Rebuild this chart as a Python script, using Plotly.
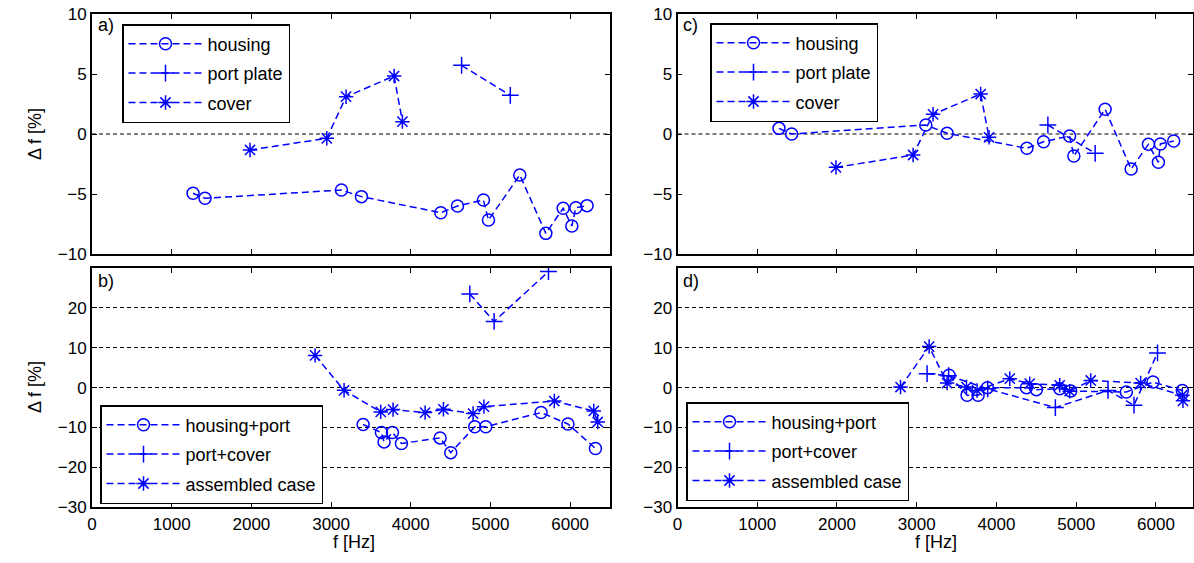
import plotly.graph_objects as go
from plotly.subplots import make_subplots

# -----------------------------
# Data
# -----------------------------
# a) separate parts, model 1
a_housing_f = [1268, 1418, 3130, 3381, 4377, 4586, 4912, 4975, 5368, 5695, 5912, 6021, 6071, 6212]
a_housing_d = [-4.94, -5.36, -4.67, -5.22, -6.56, -6.0, -5.5, -7.17, -3.42, -8.28, -6.19, -7.67, -6.14, -5.97]
a_port_f = [4638, 5249]
a_port_d = [5.72, 3.22]
a_cover_f = [1983, 2946, 3188, 3791, 3895]
a_cover_d = [-1.33, -0.36, 3.11, 4.83, 1.03]

# c) separate parts, model 2
c_housing_f = [1273, 1432, 3114, 3381, 4382, 4591, 4917, 4971, 5363, 5689, 5906, 6031, 6056, 6223]
c_housing_d = [0.47, 0.0, 0.75, 0.06, -1.19, -0.64, -0.17, -1.83, 2.06, -2.92, -0.86, -2.36, -0.83, -0.58]
c_port_f = [4645, 5238]
c_port_d = [0.75, -1.61]
c_cover_f = [1987, 2955, 3205, 3802, 3907]
c_cover_d = [-2.78, -1.75, 1.64, 3.33, -0.28]

# b) assemblies, model 1
b_hp_f = [3402, 3632, 3665, 3770, 3883, 4368, 4502, 4803, 4941, 5635, 5972, 6317]
b_hp_d = [-9.25, -11.25, -13.6, -11.25, -14.0, -12.6, -16.3, -9.8, -9.8, -6.25, -9.1, -15.25]
b_pc_f = [4741, 5046, 5728]
b_pc_d = [23.5, 16.6, 29.1]
b_case_f = [2799, 3163, 3623, 3778, 4180, 4410, 4782, 4918, 5801, 6296, 6346]
b_case_d = [8.08, -0.67, -6.08, -5.5, -6.25, -5.42, -6.5, -4.76, -3.36, -5.85, -8.6]

# d) assemblies, model 2
d_hp_f = [3406, 3632, 3770, 3887, 4376, 4501, 4793, 4931, 5629, 5963, 6331]
d_hp_d = [3.1, -1.9, -1.9, 0.0, 0.0, -0.5, -0.25, -0.85, -1.1, 1.4, -0.7]
d_pc_f = [3130, 3400, 3890, 4739, 5399, 5725, 6020]
d_pc_d = [3.5, 3.0, -0.3, -5.0, -0.7, -4.4, 8.7]
d_case_f = [2797, 3156, 3381, 3624, 3757, 4167, 4417, 4793, 4918, 5182, 5808, 6331, 6339]
d_case_d = [0.15, 10.3, 1.15, 0.15, -0.7, 2.25, 1.0, 0.6, -0.9, 1.8, 1.15, -1.9, -3.3]

x_ticks = [0, 1000, 2000, 3000, 4000, 5000, 6000]
y_ticks_top = [-10, -5, 0, 5, 10]
y_ticks_bot = [-30, -20, -10, 0, 10, 20]

# -----------------------------
# Style
# -----------------------------
W, H = 1194, 563
BLUE = "#0000ff"
FONT = "Liberation Sans"
SYMBOLS = ["circle-open", "cross-thin-open", "asterisk-open"]

fig = make_subplots(rows=2, cols=2)

def add_series(row, col, fx, dy, name, sym, legend):
    fig.add_trace(go.Scatter(
        x=fx, y=dy, name=name, mode="lines+markers",
        line=dict(color=BLUE, width=1.5, dash="7px,4px"),
        marker=dict(symbol=sym, size=12, color=BLUE, line=dict(color=BLUE, width=1.5)),
        legend=legend, legendgroup=legend + name,
    ), row=row, col=col)

add_series(1, 1, a_housing_f, a_housing_d, "housing", SYMBOLS[0], "legend")
add_series(1, 1, a_port_f, a_port_d, "port plate", SYMBOLS[1], "legend")
add_series(1, 1, a_cover_f, a_cover_d, "cover", SYMBOLS[2], "legend")

add_series(2, 1, b_hp_f, b_hp_d, "housing+port", SYMBOLS[0], "legend2")
add_series(2, 1, b_pc_f, b_pc_d, "port+cover", SYMBOLS[1], "legend2")
add_series(2, 1, b_case_f, b_case_d, "assembled case", SYMBOLS[2], "legend2")

add_series(1, 2, c_housing_f, c_housing_d, "housing", SYMBOLS[0], "legend3")
add_series(1, 2, c_port_f, c_port_d, "port plate", SYMBOLS[1], "legend3")
add_series(1, 2, c_cover_f, c_cover_d, "cover", SYMBOLS[2], "legend3")

add_series(2, 2, d_hp_f, d_hp_d, "housing+port", SYMBOLS[0], "legend4")
add_series(2, 2, d_pc_f, d_pc_d, "port+cover", SYMBOLS[1], "legend4")
add_series(2, 2, d_case_f, d_case_d, "assembled case", SYMBOLS[2], "legend4")

# -----------------------------
# Axes
# -----------------------------
xl = [92 / W, 610 / W]
xr = [677.5 / W, 1193 / W]
yt = [1 - 254 / H, 1 - 14 / H]
yb = [1 - 507.3 / H, 1 - 268 / H]

axis_common = dict(showline=True, linecolor="black", linewidth=1.8, mirror="allticks",
                   ticks="inside", ticklen=5, tickcolor="black", tickwidth=1,
                   tickfont=dict(family=FONT, size=17, color="black"),
                   zeroline=False, automargin=False)

for name, dom, rng, show in [("xaxis", xl, [0, 6500], False), ("xaxis2", xr, [0, 6465], False),
                             ("xaxis3", xl, [0, 6500], True), ("xaxis4", xr, [0, 6465], True)]:
    fig.layout[name].update(domain=dom, range=rng, tickvals=x_ticks, showticklabels=show,
                            showgrid=False, **axis_common)

for name, dom in [("yaxis", yt), ("yaxis2", yt)]:
    fig.layout[name].update(domain=dom, range=[-10, 10], tickvals=y_ticks_top,
                            showgrid=False, **axis_common)

for name, dom in [("yaxis3", yb), ("yaxis4", yb)]:
    fig.layout[name].update(domain=dom, range=[-30, 30], tickvals=y_ticks_bot,
                            showgrid=True, gridcolor="black", gridwidth=1, griddash="4px,3px",
                            **axis_common)

# zero reference line on top panels
fig.add_hline(y=0, row=1, col=1, line=dict(color="black", width=1, dash="4px,3px"), layer="below")
fig.add_hline(y=0, row=1, col=2, line=dict(color="black", width=1, dash="4px,3px"), layer="below")

# -----------------------------
# Legends
# -----------------------------
def legend_box(x, y):
    return dict(x=x / W, y=1 - y / H, xanchor="left", yanchor="top",
                bgcolor="white", bordercolor="black", borderwidth=1.5,
                font=dict(family=FONT, size=18, color="black"),
                itemwidth=74, tracegroupgap=3, itemclick=False)

fig.update_layout(
    legend=legend_box(122, 24),
    legend2=legend_box(100, 405),
    legend3=legend_box(710, 23),
    legend4=legend_box(686, 402),
)

# -----------------------------
# Labels
# -----------------------------
ann = []
for txt, x, y in [("a)", 96, 25), ("b)", 96, 281), ("c)", 681, 25), ("d)", 681, 281)]:
    ann.append(dict(text=txt, x=x / W, y=1 - y / H, xref="paper", yref="paper",
                    xanchor="left", yanchor="middle", showarrow=False,
                    font=dict(family=FONT, size=18, color="black")))
for y in [134, 387]:
    ann.append(dict(text="\u0394 f [%]", x=35 / W, y=1 - y / H, xref="paper", yref="paper",
                    textangle=-90, showarrow=False, xanchor="center", yanchor="middle",
                    font=dict(family=FONT, size=18, color="black")))
for x in [354, 936]:
    ann.append(dict(text="f [Hz]", x=x / W, y=1 - 542 / H, xref="paper", yref="paper",
                    showarrow=False, xanchor="center", yanchor="middle",
                    font=dict(family=FONT, size=18, color="black")))

fig.update_layout(
    width=W, height=H,
    margin=dict(l=0, r=0, t=0, b=0),
    paper_bgcolor="white", plot_bgcolor="white",
    annotations=ann,
    showlegend=True,
)

fig.write_html("out.html", config={"displayModeBar": False},
               post_script="document.body.style.margin='0';")
